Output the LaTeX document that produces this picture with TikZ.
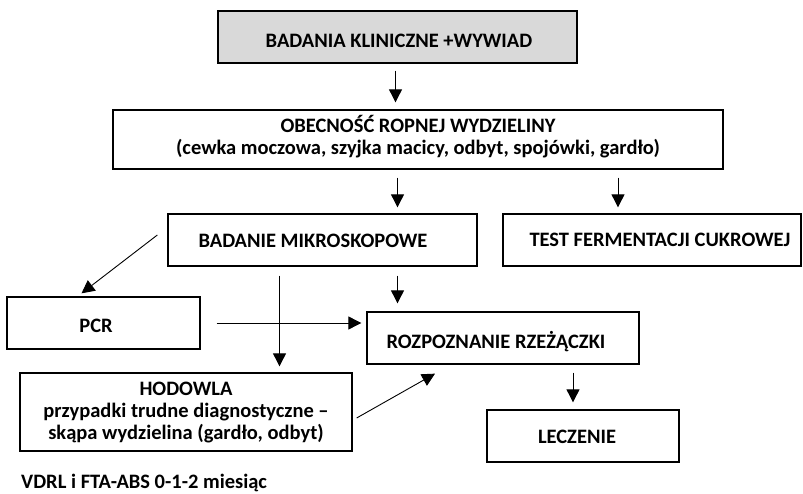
\documentclass[tikz,border=0pt]{standalone}
\usepackage{fontspec}
\setmainfont{Carlito}
\usetikzlibrary{arrows.meta}
\definecolor{boxgray}{HTML}{D9D9D9}
\begin{document}
\begin{tikzpicture}[x=1pt,y=-1pt,
  font=\bfseries\fontsize{20.5}{23}\selectfont,
  box/.style={draw, line width=1.3pt, inner sep=0pt},
  arr/.style={line width=0.9pt, -{Triangle[length=13pt,width=13pt]}},
  lbl/.style={inner sep=0pt, anchor=base}]
\useasboundingbox (0,0) rectangle (803,494);
% boxes
\node[box, fill=boxgray, minimum width=359pt, minimum height=52pt] (top) at (397.5,37) {};
\node[box, minimum width=610pt, minimum height=59pt] (obec) at (418,139.5) {};
\node[box, minimum width=309pt, minimum height=52pt] (mikro) at (322.5,240) {};
\node[box, minimum width=298pt, minimum height=52pt] (test) at (652,240) {};
\node[box, minimum width=193pt, minimum height=52pt] (pcr) at (103.5,323) {};
\node[box, minimum width=272pt, minimum height=52pt] (rozp) at (503,338) {};
\node[box, minimum width=332pt, minimum height=78pt] (hod) at (186,412) {};
\node[box, minimum width=192pt, minimum height=52pt] (lecz) at (583,436) {};
% texts
\node[lbl] (ttop) at (399,48) {BADANIA KLINICZNE +WYWIAD};
\node[lbl] (tobec1) at (418,133) {OBECNOŚĆ ROPNEJ WYDZIELINY};
\node[lbl] (tobec2) at (418,155) {(cewka moczowa, szyjka macicy, odbyt, spojówki, gardło)};
\node[lbl] (tmikro) at (313,248) {BADANIE MIKROSKOPOWE};
\node[lbl] (ttest) at (660,247) {TEST FERMENTACJI CUKROWEJ};
\node[lbl] (tpcr) at (96,332) {PCR};
\node[lbl] (trozp) at (496,348) {ROZPOZNANIE RZEŻĄCZKI};
\node[lbl] (thod1) at (186,395) {HODOWLA};
\node[lbl] (thod2) at (186,417) {przypadki trudne diagnostyczne –};
\node[lbl] (thod3) at (186,439) {skąpa wydzielina (gardło, odbyt)};
\node[lbl] (tlecz) at (577,443) {LECZENIE};
\node[lbl, anchor=base west] (vdrl) at (21,488) {VDRL i FTA-ABS 0-1-2 miesiąc};
% arrows
\draw[arr, shorten <=7pt, shorten >=7pt] ([xshift=-2pt]top.south) -- ([xshift=-2pt]top.south |- obec.north);
\draw[arr, shorten <=8pt, shorten >=6pt] ([xshift=75pt]mikro.north |- obec.south) -- ([xshift=75pt]mikro.north);
\draw[arr, shorten <=8pt, shorten >=6pt] ([xshift=-34pt]test.north |- obec.south) -- ([xshift=-34pt]test.north);
\draw[arr] ([shift={(-10pt,5pt)}]mikro.west) -- ([shift={(-22pt,3pt)}]pcr.north);
\draw[arr, shorten <=9pt, shorten >=6pt] ([xshift=-43pt]mikro.south) -- ([xshift=-43pt]mikro.south |- hod.north);
\draw[arr, shorten <=9pt, shorten >=8pt] ([xshift=75pt]mikro.south) -- ([xshift=75pt]mikro.south |- rozp.north);
\draw[arr, shorten <=16pt, shorten >=5pt] (pcr.east) -- (pcr.east -| rozp.west);
\draw[arr] ([shift={(4pt,-6pt)}]hod.east) -- ([shift={(-68pt,-9pt)}]rozp.south);
\draw[arr, shorten <=8pt, shorten >=7pt] ([xshift=-10pt]lecz.north |- rozp.south) -- ([xshift=-10pt]lecz.north);
\end{tikzpicture}
\end{document}
